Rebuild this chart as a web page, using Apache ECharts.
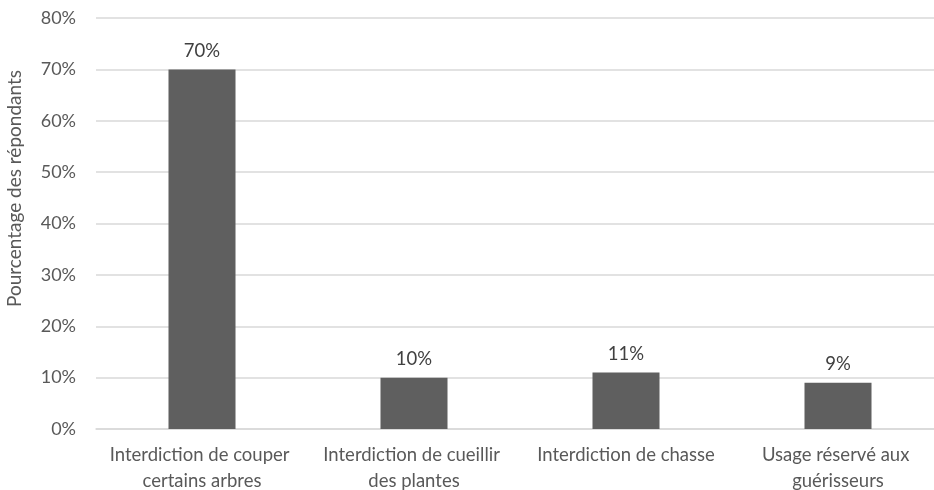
<!DOCTYPE html>
<html>
<head>
<meta charset="utf-8">
<script src="https://cdn.jsdelivr.net/npm/echarts@6/dist/echarts.min.js"></script>
<style>
  html, body { margin: 0; padding: 0; background: #fff; }
  #chart { width: 934px; height: 490px; }
</style>
</head>
<body>
<div id="chart"></div>
<script>
// données du graphique
const categories = [
  'Interdiction de couper certains arbres',
  'Interdiction de cueillir des plantes',
  'Interdiction de chasse',
  'Usage réservé aux guérisseurs'
];
const values = [70, 10, 11, 9];
const yMax = 80;
const yStep = 10;

const textColor = '#595959';
const fontFamily = 'Lato, "Open Sans", sans-serif';

const chart = echarts.init(document.getElementById('chart'));
chart.setOption({
  animation: false,
  textStyle: { fontFamily: fontFamily },
  grid: { left: 96, top: 18, width: 848, height: 411, outerBoundsMode: 'none', containLabel: false },
  xAxis: {
    type: 'category',
    data: categories,
    axisTick: { show: false },
    axisLine: { lineStyle: { color: '#d9d9d9', width: 1.5 } },
    axisLabel: {
      color: textColor,
      fontSize: 18.5,
      fontFamily: fontFamily,
      margin: 13,
      lineHeight: 26,
      width: 196,
      overflow: 'break',
      interval: 0
    }
  },
  yAxis: {
    type: 'value',
    min: 0,
    max: yMax,
    interval: yStep,
    name: 'Pourcentage des répondants',
    nameLocation: 'middle',
    nameGap: 72,
    nameTextStyle: { color: textColor, fontSize: 19, fontFamily: fontFamily, padding: [0, 0, 0, 70] },
    axisLine: { show: false },
    axisTick: { show: false },
    axisLabel: {
      color: textColor,
      fontSize: 18,
      fontFamily: fontFamily,
      margin: 20,
      formatter: v => v + '%'
    },
    splitLine: { lineStyle: { color: '#d9d9d9', width: 1.5 } }
  },
  series: [{
    type: 'bar',
    data: values,
    barWidth: 67,
    itemStyle: { color: '#5f5f5f' },
    label: {
      show: true,
      position: 'top',
      distance: 9,
      color: '#404040',
      fontSize: 18.5,
      fontFamily: fontFamily,
      formatter: p => p.value + '%'
    }
  }]
});
</script>
</body>
</html>
